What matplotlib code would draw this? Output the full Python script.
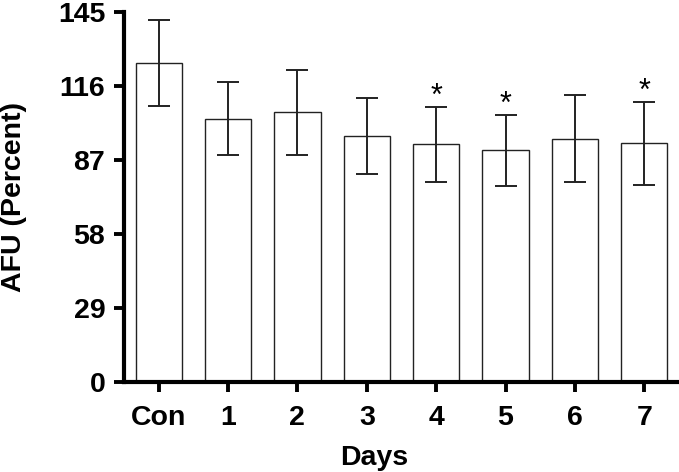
import matplotlib
matplotlib.use("Agg")
import matplotlib.pyplot as plt

# values
categories = ["Con", "1", "2", "3", "4", "5", "6", "7"]
means = [125.0, 103.1, 105.6, 96.4, 93.1, 90.7, 95.4, 93.5]
errors = [17.0, 14.3, 16.6, 14.9, 14.6, 14.0, 17.0, 16.3]
significant = [False, False, False, False, True, True, False, True]
yticks = [0, 29, 58, 87, 116, 145]

plt.rcParams["font.family"] = ["Liberation Sans", "DejaVu Sans"]

fig = plt.figure(figsize=(6.79, 4.72), dpi=100)
ax = fig.add_axes([0.1826, 0.191, 0.8174, 0.7836])

x = list(range(len(categories)))
ax.bar(x, means, width=0.667, color="white", edgecolor="#222222", linewidth=1.0, zorder=2)
ax.errorbar(x, means, yerr=errors, fmt="none", ecolor="#222222", elinewidth=1.4,
            capsize=8, capthick=1.4, zorder=3)

# significance stars sit just above the upper cap
for xi, m, e, s in zip(x, means, errors, significant):
    if s:
        ax.text(xi, m + e - 2.0, "*", ha="center", va="bottom", fontsize=22)

ax.set_xlim(-0.5, 7.5)
ax.set_ylim(0, 145)
ax.set_yticks(yticks)
ax.set_xticks(x)
ax.set_xticklabels(categories)

for side in ["top", "right"]:
    ax.spines[side].set_visible(False)
for side in ["left", "bottom"]:
    ax.spines[side].set_linewidth(3)

ax.tick_params(axis="both", length=7.5, width=2.8, labelsize=20.5)
ax.tick_params(axis="y", pad=6)
ax.tick_params(axis="x", pad=9)
for lab in ax.get_xticklabels() + ax.get_yticklabels():
    lab.set_fontweight("bold")

ax.set_ylabel("AFU (Percent)", fontsize=20.5, fontweight="bold")
ax.set_xlabel("Days", fontsize=20.5, fontweight="bold")
ax.yaxis.set_label_coords(-0.175, 0.5)
ax.xaxis.set_label_coords(0.45, -0.17)

plt.savefig("out.png", dpi=100)
plt.close()
